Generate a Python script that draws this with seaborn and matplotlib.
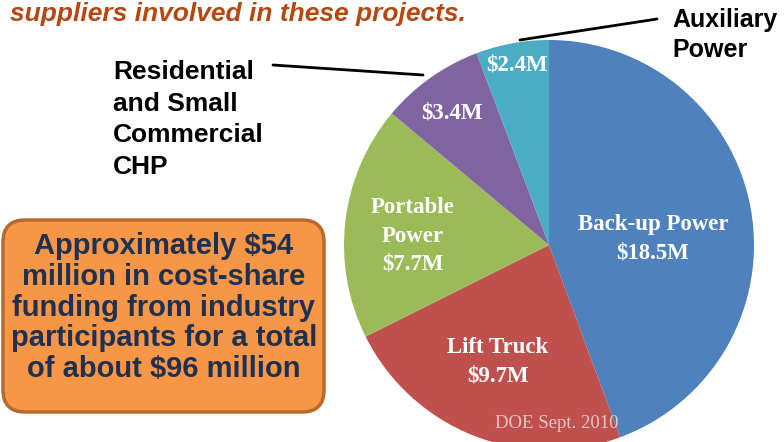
import matplotlib
matplotlib.use('Agg')
import matplotlib.pyplot as plt
from matplotlib.patches import FancyBboxPatch
import seaborn as sns

# datos del gráfico
categories = ['Back-up Power', 'Lift Truck', 'Portable Power',
              'Residential and Small Commercial CHP', 'Auxiliary Power']
funding = [18.5, 9.7, 7.7, 3.4, 2.4]
slice_labels = ['Back-up Power\n$18.5M', 'Lift Truck\n$9.7M',
                'Portable\nPower\n$7.7M', '$3.4M', '$2.4M']
slice_colors = ['#4F81BD', '#C0504D', '#9BBB59', '#8064A2', '#4BACC6']

sns.set_theme(style='white')
palette = sns.color_palette(slice_colors)

W, H = 784, 442
def Y(y):
    # coordenadas en píxeles con el origen arriba
    return H - y

fig = plt.figure(figsize=(W / 100, H / 100), dpi=100)
ax = fig.add_axes([0, 0, 1, 1])

ax.pie(funding, colors=palette, startangle=90, counterclock=False,
       center=(549, Y(245)), radius=205, frame=True,
       wedgeprops=dict(linewidth=0))
ax.set_xlim(0, W)
ax.set_ylim(0, H)
ax.set_aspect('equal')
ax.axis('off')

# etiquetas de las porciones
serif = 'Liberation Serif'
label_pos = [(653, 239), (498, 362), (413, 236), (452, 113), (517, 65)]
for txt, (x, y) in zip(slice_labels, label_pos):
    ax.text(x, Y(y), txt, ha='center', va='center', color='white',
            fontsize=16.5, fontweight='bold', family=serif, linespacing=1.45)

ax.text(557, Y(424), 'DOE Sept. 2010', ha='center', va='center',
        color='#E2C6C6', fontsize=13.5, family=serif)

# textos en sans
sans = 'Liberation Sans'
ax.text(10, Y(14), 'suppliers involved in these projects.', ha='left',
        va='center', color='#B5470F', fontsize=19, fontweight='bold',
        fontstyle='italic', family=sans)

ax.text(672, Y(35), 'Auxiliary\nPower', ha='left', va='center',
        color='black', fontsize=18, fontweight='bold', family=sans,
        linespacing=1.28)
ax.plot([520, 657], [Y(40), Y(19)], color='black', lw=2)

ax.text(113, Y(119.5), 'Residential\nand Small\nCommercial\nCHP', ha='left',
        va='center', color='black', fontsize=19, fontweight='bold',
        family=sans, linespacing=1.39)
ax.plot([273, 423], [Y(65), Y(75)], color='black', lw=2)

# cuadro naranja
box = FancyBboxPatch((3, Y(412)), 321, 192,
                     boxstyle='round,pad=0,rounding_size=22',
                     facecolor='#F79646', edgecolor='#B8692C', lw=2.5)
ax.add_patch(box)
ax.text(164, Y(307.5), 'Approximately $54\nmillion in cost-share\n'
        'funding from industry\nparticipants for a total\n'
        'of about $96 million', ha='center', va='center',
        color='#1F3050', fontsize=21, fontweight='bold', family=sans,
        linespacing=1.12)

fig.savefig('out.png', dpi=100)
